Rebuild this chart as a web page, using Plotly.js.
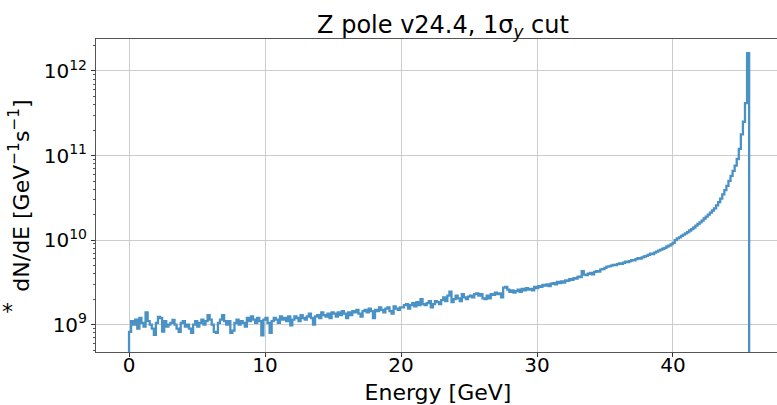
<!DOCTYPE html>
<html>
<head>
<meta charset="utf-8">
<script src="https://cdn.plot.ly/plotly-3.0.1.min.js"></script>
<style>
html, body { margin: 0; padding: 0; overflow: hidden; background: #fff; }
#chart { width: 790px; height: 405px; }
</style>
</head>
<body>
<div id="chart"></div>
<script>
// Histogram definition
const energyMin = 0;      // GeV
const energyMax = 45.6;   // GeV
const nBins = 300;

// dN/dE per bin, in units of 1e9 GeV^-1 s^-1
const dNdE_e9 = [
  // 0 - 10 GeV
  0.82,1.1,1.0,1.15,0.9,1.2,1.05,0.95,1.4,1.1,
  1.0,0.9,0.76,1.05,1.24,1.2,0.83,1.1,0.95,1.0,
  1.05,1.14,1.0,0.9,0.82,1.05,1.1,0.95,1.0,0.9,
  0.8,1.0,1.1,0.95,1.05,1.15,1.0,1.1,1.3,1.15,
  1.0,0.82,0.8,1.05,1.15,1.3,1.1,1.0,1.1,0.8,
  0.85,1.05,1.15,1.0,1.1,1.05,0.95,1.2,1.1,1.25,
  1.15,1.05,1.2,1.1,0.75,1.15,
  // 10 - 15 GeV
  1.2,1.05,0.8,1.1,1.2,1.15,1.05,1.25,1.15,1.2,
  1.1,1.25,0.98,1.15,1.25,1.2,1.1,1.3,1.2,1.15,
  1.25,1.35,1.2,1.0,1.25,1.3,1.2,1.4,1.3,1.25,
  1.35,1.2,1.4,
  // 15 - 20 GeV
  1.35,1.25,1.4,1.3,1.45,1.35,1.2,1.4,1.3,1.45,
  1.4,1.5,1.35,1.25,1.45,1.5,1.4,1.55,1.45,1.2,
  1.5,1.45,1.6,1.5,1.4,1.55,1.6,1.45,1.35,1.65,
  1.55,1.5,1.6,
  // 20 - 25 GeV
  1.6,1.7,1.75,1.55,1.7,1.8,1.65,1.85,1.7,2.0,
  1.75,1.7,1.8,1.9,1.6,1.75,1.9,1.85,1.75,1.95,
  2.1,1.9,2.2,2.45,1.85,2.0,2.2,2.05,1.9,2.3,
  2.1,2.0,2.15,
  // 25 - 30 GeV
  2.2,2.1,2.3,2.35,2.2,2.3,2.05,2.0,2.2,2.05,
  2.3,2.25,2.4,2.3,2.35,2.1,2.75,2.8,2.6,2.45,
  2.55,2.4,2.5,2.6,2.45,2.65,2.55,2.7,2.6,2.65,
  2.55,2.8,2.7,
  // 30 - 35 GeV
  2.85,2.8,2.95,2.9,3.0,2.85,3.05,3.1,3.0,3.2,
  3.1,3.25,3.15,3.35,3.3,3.45,3.4,3.55,3.5,3.7,
  3.65,4.3,3.9,3.85,4.0,4.1,3.95,4.2,4.3,4.25,
  4.5,4.55,4.7,
  // 35 - 40 GeV
  4.85,4.9,5.0,5.1,5.05,5.2,5.3,5.25,5.4,5.55,
  5.5,5.65,5.8,5.75,5.95,6.1,6.05,6.25,6.4,6.5,
  6.7,6.9,6.85,7.1,7.3,7.5,7.7,7.9,8.1,8.4,
  8.6,8.9,9.3,
  // 40 - 45.6 GeV
  10.0,10.5,10.8,11.2,11.6,12.0,12.4,13.0,13.5,14.1,
  14.8,15.5,16.2,17.0,18.0,19.0,20.0,21.1,22.4,23.7,
  25.7,28.2,30.9,34.7,38.9,43.7,50.1,57.5,66,76,
  91,120,178,251,417,1620
];

const xTickVals = [0, 10, 20, 30, 40];
const xTickText = ['0', '10', '20', '30', '40'];
const yTickVals = [1e9, 1e10, 1e11, 1e12];
const yTickText = ['10<sup>9</sup>', '10<sup>10</sup>', '10<sup>11</sup>', '10<sup>12</sup>'];

const titleText = 'Z pole v24.4, 1σ<sub><i>y</i></sub> cut';
const xTitle = 'Energy [GeV]';
const yTitle = 'dN/dE [GeV<sup>−1</sup>s<sup>−1</sup>]';

// Build step outline (matplotlib histtype="step") from the bins
const binWidth = (energyMax - energyMin) / nBins;
const baseline = 1e7; // below the visible range: outline drops to the axis
const xs = [energyMin];
const ys = [baseline];
for (let i = 0; i < nBins; i++) {
  xs.push(energyMin + i * binWidth);
  ys.push(dNdE_e9[i] * 1e9);
}
xs.push(energyMax, energyMax);
ys.push(dNdE_e9[nBins - 1] * 1e9, baseline);

const FONT = 'DejaVu Sans, sans-serif';

const trace = {
  type: 'scatter',
  mode: 'lines',
  x: xs,
  y: ys,
  line: { shape: 'hv', color: '#4a92c6', width: 2.3 },
  hoverinfo: 'skip'
};

const layout = {
  width: 790,
  height: 405,
  margin: { l: 96, r: 10, t: 39, b: 53, pad: 0 },
  paper_bgcolor: '#ffffff',
  plot_bgcolor: '#ffffff',
  showlegend: false,
  font: { family: FONT, color: '#000000', size: 20 },
  title: {
    text: titleText,
    font: { family: FONT, size: 24, color: '#000000' },
    xref: 'container', x: 443 / 790, xanchor: 'center',
    yref: 'container', y: 1 - 33 / 405, yanchor: 'bottom'
  },
  xaxis: {
    range: [-2.43, 47.87],
    tickvals: xTickVals,
    ticktext: xTickText,
    ticks: 'outside', ticklen: 4, tickcolor: '#333', tickwidth: 1,
    ticklabelstandoff: -9,
    showline: true, linecolor: '#555', linewidth: 1, mirror: true,
    showgrid: true, gridcolor: '#cccccc', gridwidth: 1,
    zeroline: false,
    tickfont: { family: FONT, size: 20, color: '#000' },
    title: { text: xTitle, font: { family: FONT, size: 22, color: '#000' }, standoff: 10 },
    automargin: false
  },
  yaxis: {
    type: 'log',
    range: [8.677, 12.378],
    tickvals: yTickVals,
    ticktext: yTickText,
    ticks: 'outside', ticklen: 4, tickcolor: '#333', tickwidth: 1,
    minor: { ticks: 'outside', ticklen: 2, tickcolor: '#555', dtick: 'D1', showgrid: false },
    showline: true, linecolor: '#555', linewidth: 1, mirror: true,
    showgrid: true, gridcolor: '#cccccc', gridwidth: 1,
    zeroline: false,
    tickfont: { family: FONT, size: 20, color: '#000' },
    title: { text: yTitle, font: { family: FONT, size: 22, color: '#000' }, standoff: 8 },
    automargin: false
  },
  annotations: [
    {
      text: '*', xref: 'paper', yref: 'paper',
      x: (7 - 96) / 684, y: (352 - 311) / 313,
      xanchor: 'center', yanchor: 'middle', showarrow: false,
      font: { family: FONT, size: 22, color: '#000' }
    }
  ]
};

Plotly.newPlot('chart', [trace], layout, { displayModeBar: false, staticPlot: true });
</script>
</body>
</html>
